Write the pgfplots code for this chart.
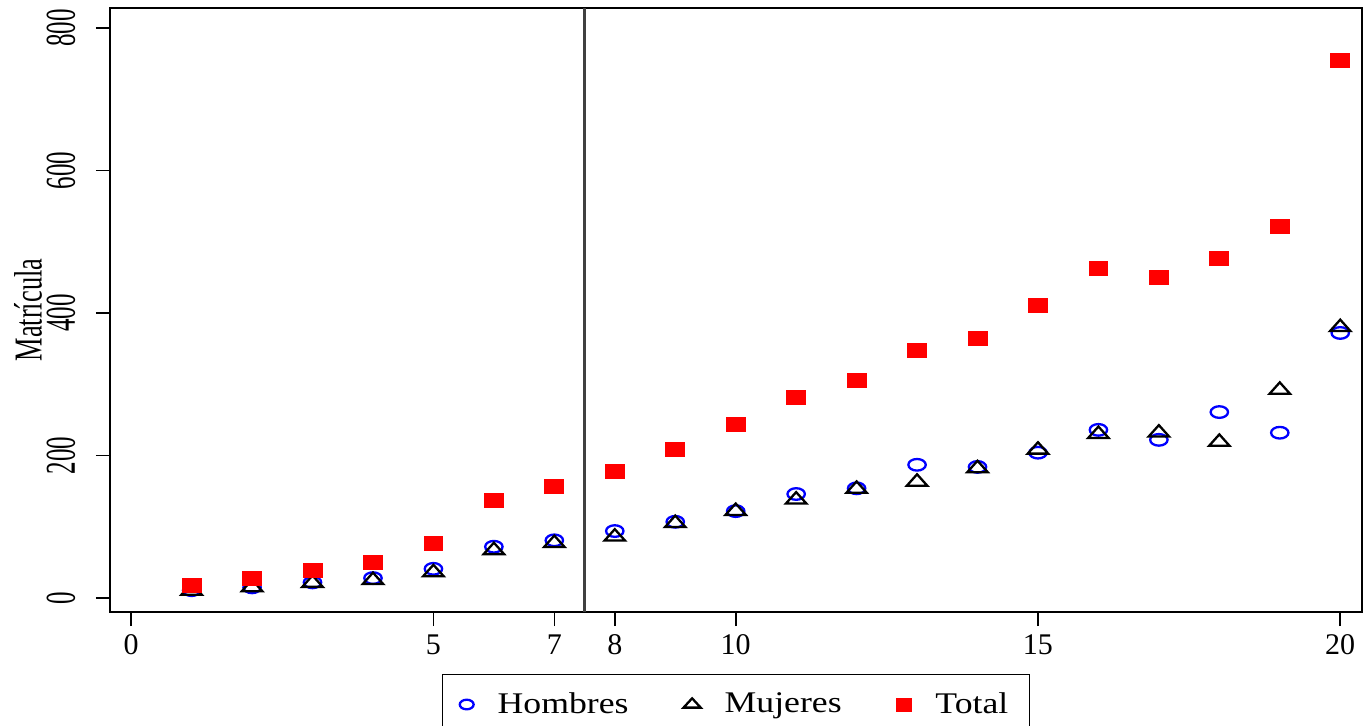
\documentclass[border=0pt]{standalone}
\usepackage{fontspec}
\setmainfont{Liberation Serif}
\usepackage{pgfplots}
\pgfplotsset{compat=1.18}
\definecolor{vline}{RGB}{64,64,64}
\pgfplotsset{mylegimg/.style={legend image code/.code={\draw[mark repeat=2,mark phase=2,only marks,##1] plot coordinates {(0pt,0pt) (6pt,0pt) (12pt,0pt)};}}}
\begin{document}
\begin{tikzpicture}
\useasboundingbox (-55pt,-56.5pt) rectangle (627pt,306pt);
\begin{axis}[
  at={(0pt,0pt)}, anchor=south west,
  scale only axis, width=626pt, height=302pt,
  xmin=-0.35, xmax=20.36, ymin=-19.6, ymax=828,
  xtick={0,5,7,8,10,15,20}, ytick={0,200,400,600,800},
  tick align=outside, tick pos=left, major tick length=7pt,
  every tick/.style={black, line width=0.8pt},
  axis line style={line width=1pt},
  /pgf/number format/assume math mode=true,
  font=\fontsize{15}{17}\selectfont,
  xticklabel style={font=\fontsize{15}{17}\selectfont, inner sep=0pt, yshift=-4pt},
  yticklabel style={font=\fontsize{12.5}{14}\selectfont, inner sep=0pt, xshift=-10pt, anchor=south, rotate=90, yscale=1.7},
  ylabel={Matrícula},
  every axis y label/.style={at={(axis description cs:0,0.5)}, xshift=-41pt, anchor=center, rotate=90, yscale=1.5, font=\fontsize{13.2}{15}\selectfont},
  legend style={at={(0.5,0)}, anchor=north, yshift=-31pt, legend columns=3,
    draw=black, line width=0.6pt, inner xsep=8.5pt, inner ysep=7pt,
    font=\fontsize{15}{17}\selectfont,
    /tikz/every odd column/.append style={column sep=10pt},
    /tikz/every even column/.append style={column sep=25.5pt}},
  legend cell align=left,
]
\addplot[vline, line width=1.5pt, forget plot] coordinates {(7.5,-19.6) (7.5,828)};
\addplot[only marks, mark=o, draw=blue, line width=1.15pt, mark size=2.9pt,
  mark options={xscale=1.5}, mylegimg,
  legend image post style={mark size=2.4pt, mark options={xscale=1.45}}] coordinates {
(1,11) (2,15) (3,22) (4,28) (5,41) (6,72) (7,81) (8,94) (9,107) (10,122)
(11,146) (12,154) (13,187) (14,184) (15,204) (16,236) (17,222) (18,261) (19,232) (20,372)};
\addlegendentry{\scalebox{1.19}[1]{Hombres}}
\addplot[only marks, mark=triangle, draw=black, line width=1.15pt, mark size=3.8pt,
  mark options={xscale=1.55}, mylegimg,
  legend image post style={mark size=3.1pt, mark options={xscale=1.6}}] coordinates {
(1,10) (2,15) (3,21) (4,25) (5,36) (6,67) (7,77) (8,86) (9,105) (10,122)
(11,138) (12,153) (13,163) (14,182) (15,208) (16,230) (17,232) (18,219) (19,292) (20,380)};
\addlegendentry{\scalebox{1.19}[1]{Mujeres}}
\addplot[only marks, mark=square*, color=red, mark size=3.5pt,
  mark options={xscale=1.35}, mylegimg,
  legend image post style={mark size=3.2pt, mark options={xscale=1.15}}] coordinates {
(1,18) (2,28) (3,39) (4,50) (5,76) (6,137) (7,156) (8,178) (9,209) (10,243)
(11,281) (12,305) (13,348) (14,365) (15,411) (16,463) (17,450) (18,477) (19,522) (20,754)};
\addlegendentry{\scalebox{1.19}[1]{Total}}
\end{axis}
\end{tikzpicture}
\end{document}
